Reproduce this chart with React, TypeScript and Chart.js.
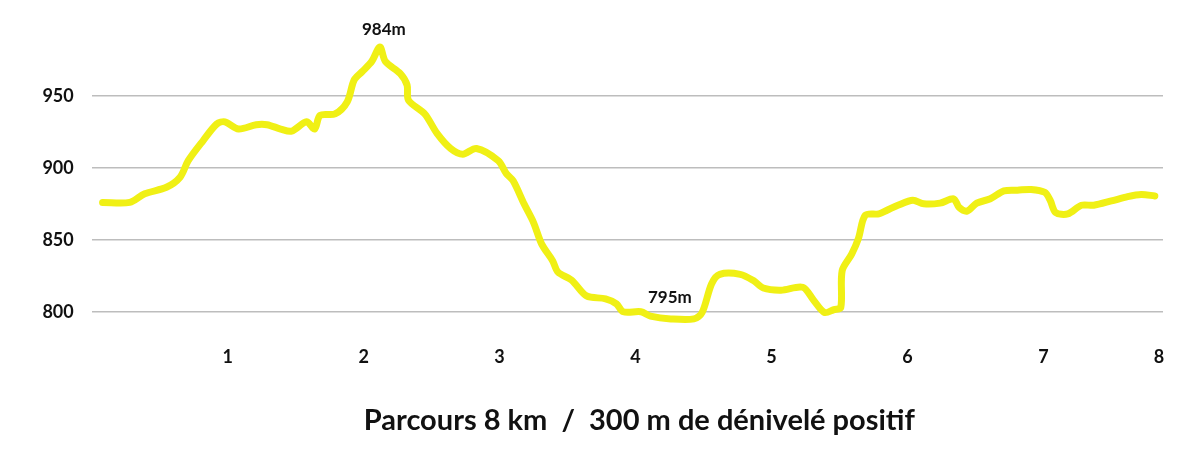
import React, { useEffect, useRef } from "react";
import { Chart, registerables } from "chart.js";

Chart.register(...registerables);

// Distance along the route (km)
const distanceKm = [
  0.08, 0.28, 0.39, 0.55, 0.65, 0.71, 0.82, 0.92, 0.98, 1.08,
  1.21, 1.29, 1.39, 1.47, 1.58, 1.64, 1.68, 1.79, 1.88, 1.93,
  1.99, 2.06, 2.12, 2.16, 2.27, 2.32, 2.33, 2.45, 2.54, 2.64,
  2.73, 2.83, 2.99, 3.05, 3.1, 3.18, 3.25, 3.31, 3.39, 3.43,
  3.53, 3.64, 3.78, 3.86, 3.91, 4.04, 4.11, 4.26, 4.43, 4.49,
  4.56, 4.62, 4.77, 4.87, 4.94, 5.07, 5.23, 5.31, 5.39, 5.46,
  5.51, 5.52, 5.59, 5.64, 5.69, 5.79, 5.85, 5.93, 6.04, 6.12,
  6.24, 6.34, 6.38, 6.44, 6.51, 6.61, 6.71, 6.81, 6.91, 7.01,
  7.05, 7.09, 7.18, 7.28, 7.37, 7.5, 7.62, 7.72, 7.82,
];

// Elevation (m)
const elevationM = [
  876, 876, 882, 886.5, 893.5, 905, 919, 930.5, 932, 927,
  930, 930, 927, 925.5, 932, 927, 936.5, 937.5, 946, 961,
  967, 974, 984, 974, 965.5, 957.5, 947, 937.5, 924, 913.5,
  909.5, 913.5, 905, 896, 891, 875, 862, 847, 835.5, 827.5,
  822, 811, 809, 805.5, 800, 800, 797, 795, 795, 799.5,
  819.5, 826, 826, 821.5, 816.5, 815, 817, 808, 799.5, 801.5,
  803, 828.5, 840, 851, 867, 868, 870.5, 874, 877.5, 875,
  875.5, 878.5, 872.5, 870, 875.5, 878.5, 884, 884.5, 885, 883,
  877.5, 869, 868, 874, 874, 877, 880, 881.5, 880.5,
];

const yTickValues = [800, 850, 900, 950];
const xTickValues = [1, 2, 3, 4, 5, 6, 7, 7.85];
const xTickLabels = ["1", "2", "3", "4", "5", "6", "7", "8"];
const titleText = "Parcours 8 km  /  300 m de dénivelé positif";

const FONT = "Lato, 'DejaVu Sans', sans-serif";

const annotatePlugin = {
  id: "annotate",
  afterDatasetsDraw(chart: any) {
    const { ctx, chartArea } = chart;
    const xs = chart.scales.x;
    const ys = chart.scales.y;
    let maxI = 0;
    let minI = 0;
    elevationM.forEach((v, i) => {
      if (v > elevationM[maxI]) maxI = i;
      if (v < elevationM[minI]) minI = i;
    });
    ctx.save();
    ctx.fillStyle = "#111111";
    ctx.textAlign = "center";
    ctx.textBaseline = "middle";
    ctx.font = `bold 17px ${FONT}`;
    ctx.fillText(
      `${elevationM[maxI]}m`,
      xs.getPixelForValue(distanceKm[maxI]) + 4,
      ys.getPixelForValue(elevationM[maxI]) - 18
    );
    ctx.fillText(
      `${elevationM[minI]}m`,
      xs.getPixelForValue(distanceKm[minI]) - 1,
      ys.getPixelForValue(elevationM[minI]) - 21
    );
    ctx.font = `bold 29px ${FONT}`;
    ctx.fillText(titleText, (chartArea.left + chartArea.right) / 2 + 12, 413);
    ctx.restore();
  },
};

export default function App() {
  const canvasRef = useRef<HTMLCanvasElement | null>(null);

  useEffect(() => {
    if (!canvasRef.current) return;
    const chart = new Chart(canvasRef.current, {
      type: "line",
      data: {
        datasets: [
          {
            data: distanceKm.map((x, i) => ({ x, y: elevationM[i] })),
            borderColor: "#f0f015",
            borderWidth: 7,
            pointRadius: 0,
            tension: 0.3,
            fill: false,
            borderCapStyle: "round",
            borderJoinStyle: "round",
          },
        ],
      },
      options: {
        animation: false,
        responsive: true,
        maintainAspectRatio: false,
        layout: { padding: { top: 16, right: 29, left: 0, bottom: 0 } },
        plugins: {
          legend: { display: false },
          tooltip: { enabled: false },
          title: { display: false },
        },
        scales: {
          x: {
            type: "linear",
            min: 0,
            max: 7.88,
            border: { display: false },
            grid: { display: false, drawTicks: false },
            afterBuildTicks: (axis: any) => {
              axis.ticks = xTickValues.map((v) => ({ value: v }));
            },
            afterFit: (axis: any) => {
              axis.height = 101.5;
              axis.paddingLeft = 0;
              axis.paddingRight = 0;
            },
            ticks: {
              padding: 6,
              color: "#111111",
              font: { family: FONT, size: 18, weight: "bold" },
              autoSkip: false,
              maxRotation: 0,
              callback: (value: any) => {
                const idx = xTickValues.indexOf(Number(value));
                return idx >= 0 ? xTickLabels[idx] : "";
              },
            },
          },
          y: {
            min: 780,
            max: 1000,
            border: { display: false },
            grid: { color: "#bdbdbd", lineWidth: 1.5, drawTicks: false },
            afterBuildTicks: (axis: any) => {
              axis.ticks = yTickValues.map((v) => ({ value: v }));
            },
            afterFit: (axis: any) => {
              axis.width = 83.7;
              axis.paddingTop = 0;
              axis.paddingBottom = 0;
            },
            ticks: {
              padding: 18,
              color: "#111111",
              font: { family: FONT, size: 18, weight: "bold" },
            },
          },
        },
      },
      plugins: [annotatePlugin],
    });
    return () => chart.destroy();
  }, []);

  return (
    <div style={{ width: 1184, height: 434, position: "relative" }}>
      <canvas ref={canvasRef} />
    </div>
  );
}
